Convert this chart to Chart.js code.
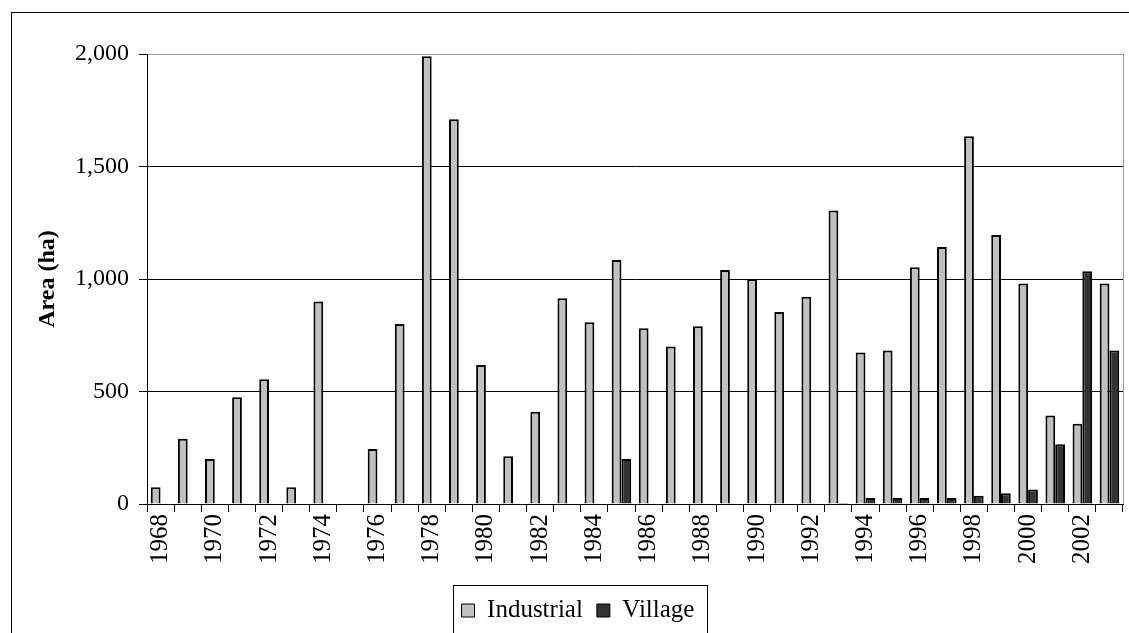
<!DOCTYPE html>
<html>
<head>
<meta charset="utf-8">
<script src="https://cdn.jsdelivr.net/npm/chart.js@4.4.1/dist/chart.umd.min.js"></script>
<style>
  html, body { margin: 0; padding: 0; background: #fff; }
  #wrap { width: 1129px; height: 633px; position: relative; }
</style>
</head>
<body>
<div id="wrap"><canvas id="c" width="1129" height="633"></canvas></div>
<script>
var years = [];
for (var y = 1968; y <= 2003; y++) years.push(String(y));

var industrial = [75, 290, 200, 475, 555, 75, 900, 0, 245, 800, 1990, 1710,
  618, 212, 410, 915, 808, 1085, 781, 700, 790, 1040, 1000, 853,
  921, 1305, 673, 682, 1052, 1142, 1635, 1196, 980, 393, 357, 980];

var village = [0, 0, 0, 0, 0, 0, 0, 0, 0, 0, 0, 0,
  0, 0, 0, 0, 0, 200, 0, 0, 0, 0, 0, 0,
  0, 5, 27, 27, 27, 27, 37, 48, 65, 266, 1034, 682];

var yTicks = [0, 500, 1000, 1500, 2000];

var serif = '"Liberation Serif", "Times New Roman", serif';

var frame = {
  id: 'frame',
  afterDraw: function(chart){
    var ctx = chart.ctx, a = chart.chartArea;
    ctx.save();
    ctx.lineWidth = 1;
    // outer chart border
    ctx.strokeStyle = '#000';
    ctx.strokeRect(11.5, 12.5, 1130, 640);
    // gray right edge of plot area
    ctx.strokeStyle = '#999';
    ctx.beginPath();
    ctx.moveTo(Math.round(a.right) + 0.5, a.top);
    ctx.lineTo(Math.round(a.right) + 0.5, a.bottom);
    ctx.stroke();
    // box round the legend
    var boxes = chart.legend.legendHitBoxes;
    if (boxes && boxes.length) {
      var l = boxes[0].left, r = boxes[boxes.length - 1].left + boxes[boxes.length - 1].width;
      var t = boxes[0].top;
      ctx.strokeStyle = '#000';
      ctx.strokeRect(Math.round(l - 9) + 0.5, Math.round(t - 13) + 0.5, Math.round(r - l + 21), 60);
    }
    ctx.restore();
  }
};

new Chart(document.getElementById('c'), {
  type: 'bar',
  data: {
    labels: years,
    datasets: [
      { label: 'Industrial', data: industrial, backgroundColor: '#c0c0c0',
        borderColor: '#000', borderWidth: 2 },
      { label: 'Village', data: village, backgroundColor: '#333333',
        borderColor: '#000', borderWidth: 2 }
    ]
  },
  options: {
    responsive: false,
    animation: false,
    devicePixelRatio: 1,
    categoryPercentage: 0.72,
    barPercentage: 1,
    layout: { padding: { top: 54, left: 33, right: 6, bottom: 0 } },
    plugins: {
      tooltip: { enabled: false },
      legend: {
        position: 'bottom',
        labels: {
          color: '#000',
          font: { family: serif, size: 25 },
          boxWidth: 13,
          boxHeight: 13,
          padding: 14,
          generateLabels: function(chart){
            var items = Chart.defaults.plugins.legend.labels.generateLabels(chart);
            items.forEach(function(it){ it.lineWidth = 1; });
            return items;
          }
        }
      }
    },
    scales: {
      x: {
        afterFit: function(s){ s.height = 80; s.paddingLeft = 0; s.paddingRight = 0; },
        border: { color: '#000', width: 1 },
        grid: { offset: true, drawOnChartArea: false, color: '#000', tickLength: 8 },
        ticks: {
          color: '#000',
          autoSkip: false,
          minRotation: 90,
          maxRotation: 90,
          padding: 2,
          font: { family: serif, size: 25 },
          callback: function(v, i){ return i % 2 === 0 ? years[i] : ''; }
        }
      },
      y: {
        min: 0,
        max: 2000,
        afterFit: function(s){ s.width = 114; },
        afterBuildTicks: function(s){
          s.ticks = yTicks.map(function(v){ return { value: v }; });
        },
        border: { color: '#000', width: 1 },
        grid: {
          color: function(c){ return c.tick && c.tick.value === 2000 ? '#999' : '#000'; },
          tickColor: '#000',
          tickLength: 8
        },
        ticks: {
          color: '#000',
          padding: 10,
          font: { family: serif, size: 24 },
          callback: function(v){ return v.toLocaleString('en-US'); }
        },
        title: {
          display: true,
          text: 'Area (ha)',
          color: '#000',
          font: { family: serif, size: 24, weight: 'bold' },
          padding: 0
        }
      }
    }
  },
  plugins: [frame]
});
</script>
</body>
</html>
